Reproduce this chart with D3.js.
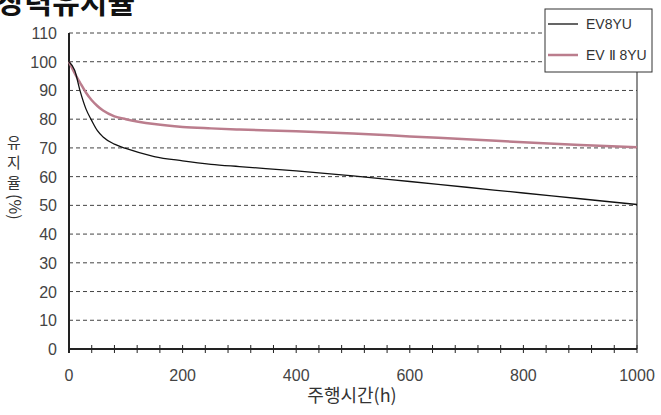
<!DOCTYPE html>
<html>
<head>
<meta charset="utf-8">
<script src="https://cdn.jsdelivr.net/npm/d3@7"></script>
<style>
  body { margin: 0; background: #fff; }
  text { font-family: "Liberation Sans", Arial, sans-serif; }
  .kr { font-family: "Noto Sans CJK KR", sans-serif; }
</style>
</head>
<body>
<svg width="661" height="415"></svg>
<script>
var width = 661, height = 415;

// data
var hours  = [0, 10, 20, 30, 40, 50, 60, 80, 100, 150, 200, 250, 300, 400, 500, 600, 700, 800, 900, 1000];
var ev8yu  = [100, 97, 89.5, 83.5, 79.5, 76, 73.8, 71.3, 69.8, 67, 65.5, 64.3, 63.5, 62, 60.3, 58.3, 56.3, 54.3, 52.3, 50.3];
var ev2yu  = [100, 96, 92.5, 89.2, 86.6, 84.6, 83, 81, 80, 78.3, 77.3, 76.8, 76.4, 75.8, 75, 74, 73, 72, 71, 70.2];
var yTicks = [0, 10, 20, 30, 40, 50, 60, 70, 80, 90, 100, 110];
var xTicks = [0, 200, 400, 600, 800, 1000];
var seriesNames = ["EV8YU", "EV Ⅱ 8YU"];

var svg = d3.select('svg');

var x = d3.scaleLinear().domain([0, 1000]).range([69, 637]);
var y = d3.scaleLinear().domain([0, 110]).range([349, 33]);

// title (cut off at top)
svg.append('text')
  .attr('class', 'kr')
  .attr('x', -3).attr('y', 13)
  .style('font-size', '30px').style('font-weight', 'bold')
  .attr('fill', '#111')
  .text('장력유지율');

// gridlines
svg.append('g').selectAll('line')
  .data(yTicks.filter(function(d) { return d > 0; }))
  .enter().append('line')
  .attr('x1', x(0)).attr('x2', x(1000))
  .attr('y1', function(d) { return y(d); })
  .attr('y2', function(d) { return y(d); })
  .attr('stroke', '#444').attr('stroke-width', 1)
  .attr('stroke-dasharray', '4,3');

// right border
svg.append('line')
  .attr('x1', x(1000)).attr('x2', x(1000))
  .attr('y1', 72).attr('y2', y(0))
  .attr('stroke', '#444').attr('stroke-width', 1.2);

// x axis with minor ticks every 40h crossing the line
var xAxis = svg.append('g');
xAxis.append('line')
  .attr('x1', x(0)).attr('x2', x(1000))
  .attr('y1', y(0)).attr('y2', y(0))
  .attr('stroke', '#222').attr('stroke-width', 2);
xAxis.selectAll('.mt')
  .data(d3.range(0, 1001, 40))
  .enter().append('line')
  .attr('x1', function(d) { return x(d); })
  .attr('x2', function(d) { return x(d); })
  .attr('y1', y(0) - 4).attr('y2', y(0) + 4)
  .attr('stroke', '#222').attr('stroke-width', 1);
xAxis.selectAll('text')
  .data(xTicks)
  .enter().append('text')
  .attr('x', function(d) { return x(d); })
  .attr('y', 381)
  .attr('text-anchor', 'middle')
  .style('font-size', '16px')
  .attr('fill', '#444')
  .text(function(d) { return d; });

// y axis
var yAxis = svg.append('g');
yAxis.append('line')
  .attr('x1', x(0)).attr('x2', x(0))
  .attr('y1', y(110)).attr('y2', y(0) + 4)
  .attr('stroke', '#222').attr('stroke-width', 2);
yAxis.selectAll('text')
  .data(yTicks)
  .enter().append('text')
  .attr('x', 57)
  .attr('y', function(d) { return y(d) + 6; })
  .attr('text-anchor', 'end')
  .style('font-size', '16px')
  .attr('fill', '#444')
  .text(function(d) { return d; });

// axis titles
svg.append('text')
  .attr('class', 'kr')
  .attr('x', 352).attr('y', 402)
  .attr('text-anchor', 'middle')
  .style('font-size', '18px')
  .attr('fill', '#333')
  .text('주행시간(h)');

// vertical y title: hangul upright (one text, stacked tspans), "(%)" turned
var yt = svg.append('text')
  .attr('class', 'kr')
  .attr('text-anchor', 'middle')
  .style('font-size', '15px')
  .attr('fill', '#333');
['유', '지', '율'].forEach(function(c, i) {
  yt.append('tspan')
    .attr('x', 14)
    .attr('y', 148 + i * 20)
    .text(c);
});
svg.append('text')
  .attr('class', 'kr')
  .attr('transform', 'translate(9,194) rotate(90)')
  .style('font-size', '16px')
  .attr('fill', '#333')
  .text('(%)');

// lines
var line = d3.line()
  .x(function(d) { return x(d[0]); })
  .y(function(d) { return y(d[1]); })
  .curve(d3.curveMonotoneX);

svg.append('path')
  .datum(d3.zip(hours, ev2yu))
  .attr('d', line)
  .attr('fill', 'none')
  .attr('stroke', '#bb7d8d').attr('stroke-width', 2.5);

svg.append('path')
  .datum(d3.zip(hours, ev8yu))
  .attr('d', line)
  .attr('fill', 'none')
  .attr('stroke', '#111').attr('stroke-width', 1.3);

// legend
var lg = svg.append('g');
lg.append('rect')
  .attr('x', 545).attr('y', 9).attr('width', 107).attr('height', 63)
  .attr('fill', '#fff').attr('stroke', '#333').attr('stroke-width', 1);
var legColors = ['#111', '#bb7d8d'], legW = [1.3, 2.5];
seriesNames.forEach(function(n, i) {
  var ly = 24 + i * 31;
  lg.append('line')
    .attr('x1', 548).attr('x2', 578)
    .attr('y1', ly).attr('y2', ly)
    .attr('stroke', legColors[i]).attr('stroke-width', legW[i]);
  lg.append('text')
    .attr('x', 586).attr('y', ly + 5)
    .style('font-size', '14px')
    .attr('fill', '#333')
    .text(n);
});
</script>
</body>
</html>
